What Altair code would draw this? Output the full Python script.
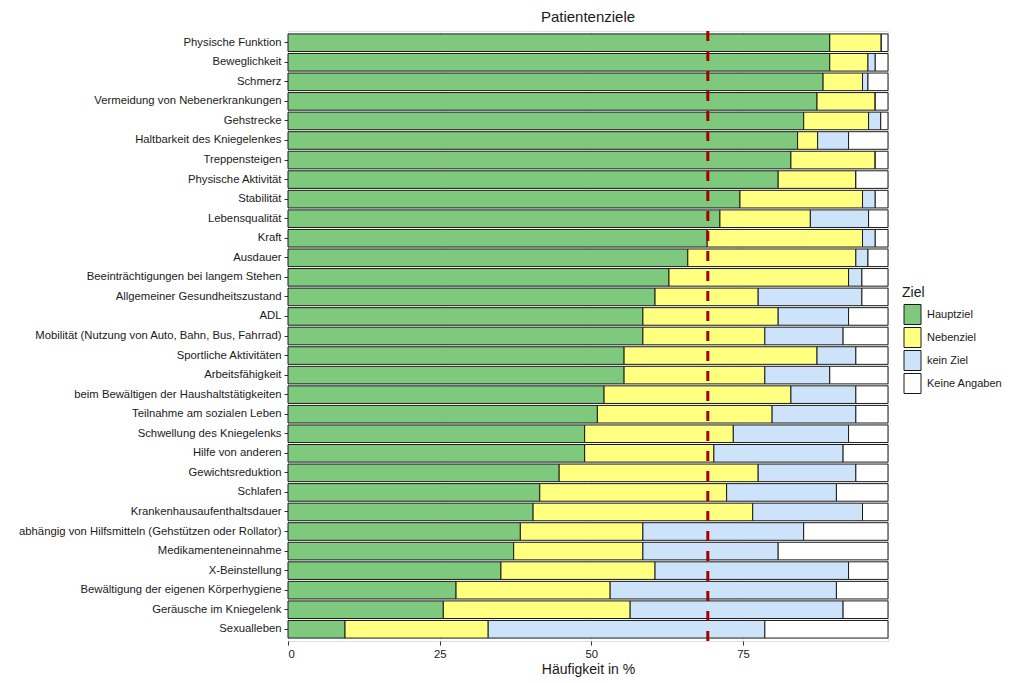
import altair as alt
import pandas as pd

categories = [
    "Physische Funktion", "Beweglichkeit", "Schmerz", "Vermeidung von Nebenerkrankungen",
    "Gehstrecke", "Haltbarkeit des Kniegelenkes", "Treppensteigen", "Physische Aktivität",
    "Stabilität", "Lebensqualität", "Kraft", "Ausdauer",
    "Beeinträchtigungen bei langem Stehen", "Allgemeiner Gesundheitszustand", "ADL",
    "Mobilität (Nutzung von Auto, Bahn, Bus, Fahrrad)", "Sportliche Aktivitäten",
    "Arbeitsfähigkeit", "beim Bewältigen der Haushaltstätigkeiten",
    "Teilnahme am sozialen Leben", "Schwellung des Kniegelenks", "Hilfe von anderen",
    "Gewichtsreduktion", "Schlafen", "Krankenhausaufenthaltsdauer",
    "abhängig von Hilfsmitteln (Gehstützen oder Rollator)", "Medikamenteneinnahme",
    "X-Beinstellung", "Bewältigung der eigenen Körperhygiene", "Geräusche im Kniegelenk",
    "Sexualleben",
]
hauptziel = [89.3, 89.3, 88.2, 87.2, 85.0, 84.0, 82.9, 80.8, 74.5, 71.2, 69.1, 65.9,
             62.8, 60.5, 58.5, 58.5, 55.4, 55.4, 52.1, 51.0, 48.9, 48.9, 44.7, 41.5,
             40.4, 38.3, 37.2, 35.1, 27.7, 25.6, 9.4]
nebenziel = [8.5, 6.3, 6.5, 9.6, 10.7, 3.3, 13.9, 12.8, 20.2, 14.9, 25.6, 27.7,
             29.6, 17.0, 22.3, 20.1, 31.8, 23.2, 30.8, 28.8, 24.5, 21.3, 32.8, 30.8,
             36.2, 20.2, 21.3, 25.4, 25.4, 30.8, 23.6]
kein_ziel = [0.0, 1.2, 0.9, 0.0, 2.0, 5.1, 0.0, 0.0, 2.1, 9.6, 2.1, 2.0,
             2.2, 17.1, 11.6, 12.9, 6.4, 10.7, 10.7, 13.8, 19.0, 21.3, 16.1, 18.1,
             18.1, 26.5, 22.3, 31.9, 37.3, 35.1, 45.6]
keine_angaben = [1.1, 2.1, 3.3, 2.1, 1.2, 6.5, 2.1, 5.3, 2.1, 3.2, 2.1, 3.3,
                 4.3, 4.3, 6.5, 7.4, 5.3, 9.6, 5.3, 5.3, 6.5, 7.4, 5.3, 8.5,
                 4.2, 13.9, 18.1, 6.5, 8.5, 7.4, 20.3]
groups = ["Hauptziel", "Nebenziel", "kein Ziel", "Keine Angaben"]
colors = ["#7FC97F", "#FFFF80", "#CCE3FA", "#FFFFFF"]
ref_value = [69.2]
x_ticks = [0, 25, 50, 75]
x_max = 98.9

rows = []
for i, cat in enumerate(categories):
    for k, (g, vals) in enumerate(zip(groups, [hauptziel, nebenziel, kein_ziel, keine_angaben])):
        rows.append({"Kategorie": cat, "Ziel": g, "Wert": vals[i], "ord": k})
df = pd.DataFrame(rows)

FONT = "Liberation Sans"

bars = alt.Chart(df).mark_bar(stroke="#1a1a1a", strokeWidth=1, opacity=1).encode(
    y=alt.Y("Kategorie:N", sort=categories, title=None,
            scale=alt.Scale(paddingInner=0.1, paddingOuter=0.15),
            axis=alt.Axis(labelFontSize=11.3, labelColor="#1a1a1a", labelFont=FONT,
                          tickColor="#333333", tickSize=4, labelPadding=3,
                          domain=False, grid=False, labelLimit=400)),
    x=alt.X("Wert:Q", stack="zero", title="Häufigkeit in %",
            scale=alt.Scale(domain=[0, x_max], nice=False, zero=True),
            axis=alt.Axis(values=x_ticks, labelFontSize=11.3, labelColor="#1a1a1a",
                          labelFont=FONT, titleFont=FONT, titleFontSize=14,
                          titleFontWeight="normal", titleColor="#1a1a1a",
                          tickColor="#333333", tickSize=4, labelPadding=3,
                          domain=False, grid=True, gridColor="#EBEBEB",
                          titlePadding=3)),
    color=alt.Color("Ziel:N", sort=groups,
                    scale=alt.Scale(domain=groups, range=colors),
                    legend=alt.Legend(title="Ziel", orient="none", legendX=614, legendY=255,
                                      titleFont=FONT, titleFontSize=14,
                                      titleFontWeight="normal", titleColor="#1a1a1a",
                                      labelFont=FONT, labelFontSize=11,
                                      labelColor="#1a1a1a",
                                      symbolType="M-0.85,-1H0.85V1H-0.85Z", symbolSize=400,
                                      symbolStrokeColor="#1a1a1a", symbolStrokeWidth=1,
                                      symbolOpacity=1, symbolFillColor="#ffffff",
                                      rowPadding=-6.5, titlePadding=4, labelOffset=4)),
    order=alt.Order("ord:Q", sort="ascending"),
)

rule = alt.Chart(pd.DataFrame({"x": ref_value})).mark_rule(
    color="#A50000", strokeWidth=3, strokeDash=[10, 10]
).encode(x="x:Q")

chart = alt.layer(bars, rule).properties(
    width=600, height=610,
    title=alt.TitleParams("Patientenziele", font=FONT, fontSize=15, fontWeight="normal",
                          color="#1a1a1a", anchor="middle", frame="group", offset=5),
    padding={"left": 10, "top": 1, "right": 5, "bottom": 5},
).configure_view(stroke="#7F7F7F", strokeWidth=1).configure(background="white")

chart.save("out.html", embed_options={"renderer": "svg", "actions": False})
